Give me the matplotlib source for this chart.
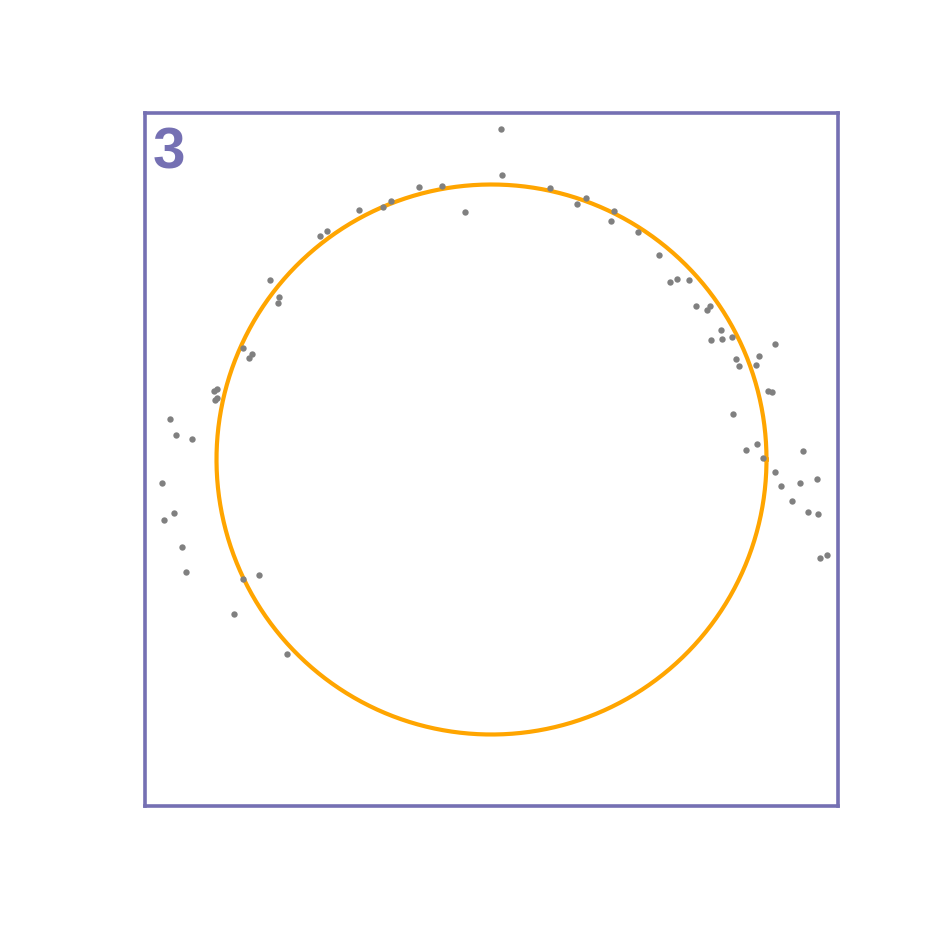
import numpy as np
import matplotlib
matplotlib.use("Agg")
import matplotlib.pyplot as plt

# points (circle radius = 1, centred at 0)
xs = [-0.805, -0.772, -0.777, -0.624, -0.598, -0.481, -0.396, -0.364, -0.265, -0.181,
      -0.095, -0.903, -0.872, -0.881, 0.036, 0.038, 0.214, 0.311, 0.344, 0.447,
      0.435, 0.533, 0.609, 0.648, 0.673, 0.719, 0.744, 0.796, 0.785, 0.835,
      0.799, 0.839, 0.876, 1.031, 0.972, 0.888, 0.901, 0.962, 1.004, 1.020,
      0.879, 0.967, 0.924, 0.988, 1.133, 1.031, 1.054, 1.121, 1.185, 1.094,
      1.150, 1.188, 1.195, 1.220, -0.999, -1.009, -0.999, -1.007, -1.168, -1.146,
      -1.088, -1.199, -1.155, -1.192, -1.124, -1.111, -0.903, -0.845, -0.936, -0.745]
ys = [0.653, 0.591, 0.570, 0.814, 0.830, 0.906, 0.918, 0.941, 0.990, 0.995,
      0.901, 0.404, 0.384, 0.370, 1.203, 1.035, 0.986, 0.930, 0.951, 0.903,
      0.866, 0.828, 0.744, 0.644, 0.657, 0.654, 0.559, 0.559, 0.543, 0.471,
      0.435, 0.439, 0.444, 0.420, 0.376, 0.364, 0.340, 0.345, 0.248, 0.247,
      0.167, 0.056, 0.033, 0.004, 0.032, -0.047, -0.095, -0.085, -0.071, -0.150,
      -0.192, -0.198, -0.358, -0.347, 0.256, 0.250, 0.223, 0.217, 0.148, 0.088,
      0.073, -0.085, -0.196, -0.221, -0.317, -0.409, -0.433, -0.421, -0.563, -0.706]

panel_label = "3"
radius = 1.0
lim = 1.26

fig = plt.figure(figsize=(9.42, 9.42), dpi=100)
ax = fig.add_axes([145 / 942, 136 / 942, 693 / 942, 693 / 942])

theta = np.linspace(0, 2 * np.pi, 400)
ax.plot(radius * np.cos(theta), radius * np.sin(theta), color="#FFA500", lw=3.0, zorder=2)
ax.scatter(xs, ys, s=21, color="#808080", linewidths=0, zorder=3)

ax.set_xlim(-lim, lim)
ax.set_ylim(-lim, lim)
ax.set_xticks([])
ax.set_yticks([])
for sp in ax.spines.values():
    sp.set_color("#7570B3")
    sp.set_linewidth(2.6)

ax.text(0.011, 0.981, panel_label, transform=ax.transAxes, ha="left", va="top",
        fontsize=42, fontweight="bold", color="#7570B3", family="Liberation Sans")

fig.savefig("out.png", dpi=100)
